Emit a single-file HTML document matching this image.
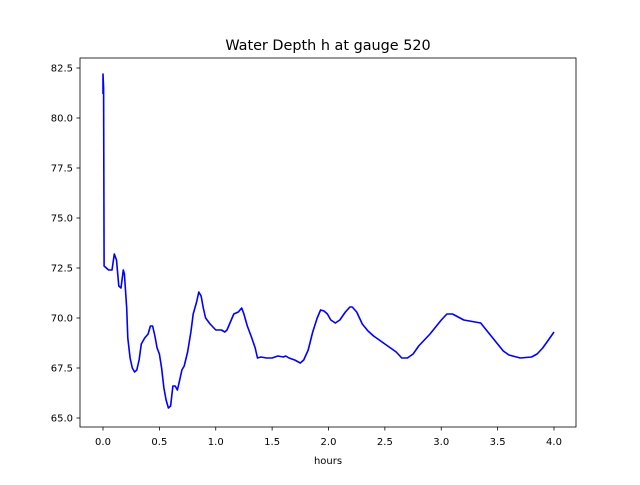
<!DOCTYPE html>
<html><head><meta charset="utf-8"><style>
body{margin:0;background:#fff;font-family:"Liberation Sans","DejaVu Sans",sans-serif}
svg text{font-family:"DejaVu Sans","Liberation Sans",sans-serif}
</style></head><body>
<svg id="chart" width="640" height="480" xmlns="http://www.w3.org/2000/svg">
<rect width="640" height="480" fill="#fff"/>
<text x="328" y="50" font-size="14.4" text-anchor="middle">Water Depth h at gauge 520</text>
<text x="328" y="464" font-size="10" text-anchor="middle">hours</text>
<g id="ticks"></g>
<path id="line" fill="none" stroke="#0000ff" stroke-width="1.6" stroke-linejoin="round"/>
<rect x="80" y="58" width="496" height="369" fill="none" stroke="#000" stroke-width="0.8"/>
</svg>
<script>
const hours=[0,0,0.005,0.01,0.05,0.08,0.1,0.12,0.14,0.16,0.18,0.19,0.21,0.22,0.24,0.26,0.28,0.3,0.32,0.34,0.37,0.4,0.42,0.44,0.46,0.48,0.5,0.52,0.54,0.56,0.58,0.6,0.62,0.64,0.66,0.68,0.7,0.72,0.75,0.78,0.8,0.83,0.85,0.87,0.89,0.91,0.95,1.0,1.05,1.08,1.1,1.13,1.16,1.2,1.23,1.25,1.28,1.32,1.35,1.37,1.4,1.45,1.5,1.55,1.6,1.62,1.65,1.7,1.75,1.78,1.82,1.86,1.9,1.93,1.96,1.99,2.02,2.06,2.1,2.15,2.19,2.21,2.25,2.3,2.35,2.4,2.5,2.6,2.65,2.7,2.75,2.8,2.9,3.0,3.05,3.1,3.2,3.3,3.35,3.4,3.5,3.55,3.6,3.7,3.8,3.85,3.9,3.95,4.0];
const depth=[81.2,82.2,81.5,72.6,72.4,72.4,73.2,72.9,71.6,71.5,72.4,72.2,70.5,69.0,68.0,67.5,67.3,67.4,67.9,68.7,69.0,69.2,69.6,69.6,69.1,68.5,68.2,67.5,66.5,65.9,65.5,65.6,66.6,66.6,66.4,66.9,67.4,67.6,68.3,69.3,70.2,70.8,71.3,71.1,70.5,70.0,69.7,69.4,69.4,69.3,69.4,69.8,70.2,70.3,70.5,70.2,69.6,69.0,68.5,68.0,68.05,68.0,68.0,68.1,68.05,68.1,68.0,67.9,67.75,67.9,68.4,69.3,70.0,70.4,70.35,70.2,69.9,69.75,69.9,70.3,70.55,70.55,70.3,69.7,69.35,69.1,68.7,68.3,68.0,68.0,68.2,68.6,69.2,69.9,70.2,70.2,69.9,69.8,69.75,69.4,68.7,68.35,68.15,68.0,68.05,68.2,68.5,68.9,69.3];
const xTicks=[0,0.5,1,1.5,2,2.5,3,3.5,4];
const xTickLabels=["0.0","0.5","1.0","1.5","2.0","2.5","3.0","3.5","4.0"];
const yTicks=[65,67.5,70,72.5,75,77.5,80,82.5];
const yTickLabels=["65.0","67.5","70.0","72.5","75.0","77.5","80.0","82.5"];
const X=v=>103+v*112.75, Y=v=>68+(82.5-v)*20;
const NS="http://www.w3.org/2000/svg", g=document.getElementById('ticks');
function mk(t,a){const e=document.createElementNS(NS,t);for(const k in a)e.setAttribute(k,a[k]);g.appendChild(e);return e;}
xTicks.forEach((v,i)=>{
 const l=mk('line',{x1:X(v),x2:X(v),y1:427,y2:430.5,stroke:'#000','stroke-width':0.8});
 
 
 const t=mk('text',{x:X(v),y:445,'font-size':10,'text-anchor':'middle'});t.textContent=xTickLabels[i];
 
 
});
yTicks.forEach((v,i)=>{
 const l=mk('line',{x1:76.5,x2:80,y1:Y(v),y2:Y(v),stroke:'#000','stroke-width':0.8});
 
 
 const t=mk('text',{x:73,y:Y(v)+3.5,'font-size':10,'text-anchor':'end'});t.textContent=yTickLabels[i];
 
 
});
document.getElementById('line').setAttribute('d',hours.map((h,i)=>(i?'L':'M')+X(h).toFixed(1)+','+Y(depth[i]).toFixed(1)).join(''));
</script>
</body></html>
